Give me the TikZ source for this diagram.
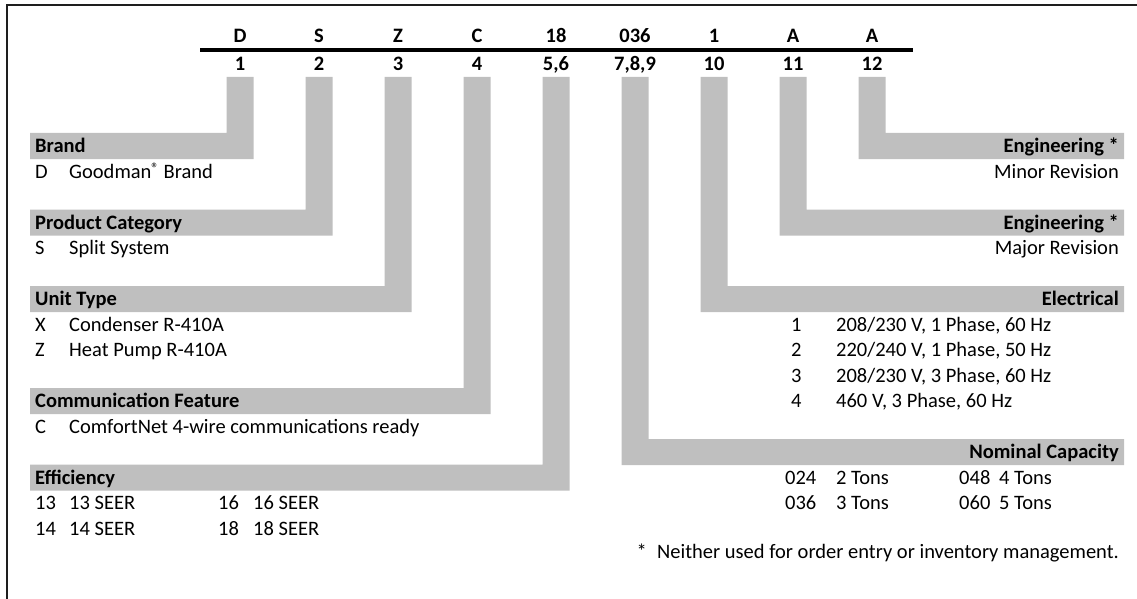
\documentclass[tikz,border=0pt]{standalone}
\usepackage{fontspec}
\setmainfont{Carlito}
\usetikzlibrary{positioning,calc}
\definecolor{CodeGray}{HTML}{BFBFBF}
\definecolor{FrameBlack}{HTML}{1E1E1E}
\newcommand{\codefont}{\fontsize{20.5}{25}\selectfont}
\newcommand{\regmark}{\raisebox{5pt}{\fontsize{15}{15}\selectfont ®}}

\begin{document}
\begin{tikzpicture}[x=1pt,y=-1pt,
    every node/.style={inner sep=0pt,font=\codefont},
    code/.style={anchor=base,font=\codefont\bfseries},
    hdl/.style={anchor=base west,font=\codefont\bfseries},
    hdr/.style={anchor=base east,font=\codefont\bfseries},
    keyl/.style={anchor=base west},
    keyr/.style={anchor=base east},
    band/.style={fill=CodeGray}
  ]
    \useasboundingbox (0,0) rectangle (1137,599);
    % frame
    \draw[FrameBlack,line width=2pt] (7,599) -- (7,5) -- (1137,5);
    % model number and digit positions
    \foreach \i/\ltr/\pos in {1/D/1,2/S/2,3/Z/3,4/C/4,5/18/{5,6},6/036/{7,8,9},7/1/10,8/A/11,9/A/12}{
      \node[code] (l\i) at ({240+79*(\i-1)},42.5) {\ltr};
      \node[code] (p\i) at ({240+79*(\i-1)},70.5) {\pos};
    }
    \coordinate (barL) at (200,50);
    \coordinate (barR) at (913,50);
    \draw[line width=4.5pt] (barL) -- (barR);

    % left hand bands
    \foreach \i/\yb in {1/146,2/222.5,3/299,4/401,5/477.5}{
      \pgfmathsetmacro{\xa}{240+79*(\i-1)-13.5}
      \pgfmathsetmacro{\xb}{\xa+27}
      \fill[band] (\xa,77) -- (\xb,77) -- (\xb,\yb+13) -- (30,\yb+13)
        -- (30,\yb-13) -- (\xa,\yb-13) -- cycle;
    }
    % right hand bands
    \foreach \i/\yb in {9/146,8/222.5,7/299,6/452}{
      \pgfmathsetmacro{\xa}{240+79*(\i-1)-13.5}
      \pgfmathsetmacro{\xb}{\xa+27}
      \fill[band] (\xa,77) -- (\xb,77) -- (\xb,\yb-13) -- (1124,\yb-13)
        -- (1124,\yb+13) -- (\xa,\yb+13) -- cycle;
    }

    % Brand
    \node[hdl] (brand) at (35,152.5) {Brand};
    \node[keyl] (brandD) at (35,178) {D};
    \node[keyl] (brandDt) at (69,178) {Goodman\regmark\ Brand};
    % Product Category
    \node[hdl] (prod) at (35,229) {Product Category};
    \node[keyl] (prodS) at (35,254.5) {S};
    \node[keyl] (prodSt) at (69,254.5) {Split System};
    % Unit Type
    \node[hdl] (unit) at (35,305.5) {Unit Type};
    \node[keyl] (unitX) at (35,331) {X};
    \node[keyl] (unitXt) at (69,331) {Condenser R-410A};
    \node[keyl] (unitZ) at (35,356.5) {Z};
    \node[keyl] (unitZt) at (69,356.5) {Heat Pump R-410A};
    % Communication Feature
    \node[hdl] (comm) at (35,407.5) {Communication Feature};
    \node[keyl] (commC) at (35,433) {C};
    \node[keyl] (commCt) at (69,433) {ComfortNet 4-wire communications ready};
    % Efficiency
    \node[hdl] (eff) at (35,484) {Efficiency};
    \node[keyl] (eff13) at (35,509.5) {13};
    \node[keyl] (eff13t) at (69,509.5) {13 SEER};
    \node[keyl] (eff14) at (35,535) {14};
    \node[keyl] (eff14t) at (69,535) {14 SEER};
    \node[keyl] (eff16) at (218,509.5) {16};
    \node[keyl] (eff16t) at (253,509.5) {16 SEER};
    \node[keyl] (eff18) at (218,535) {18};
    \node[keyl] (eff18t) at (253,535) {18 SEER};

    % Engineering (12)
    \node[hdr] (engminor) at (1119,152.5) {Engineering *};
    \node[keyr] (minor) at (1119,178) {Minor Revision};
    % Engineering (11)
    \node[hdr] (engmajor) at (1119,229) {Engineering *};
    \node[keyr] (major) at (1119,254.5) {Major Revision};
    % Electrical
    \node[hdr] (elec) at (1119,305.5) {Electrical};
    \foreach \k/\txt [count=\r] in {1/{208/230 V, 1 Phase, 60 Hz},2/{220/240 V, 1 Phase, 50 Hz},3/{208/230 V, 3 Phase, 60 Hz},4/{460 V, 3 Phase, 60 Hz}}{
      \node[keyl] (elec\r) at (791,{305.5+25.5*\r}) {\k};
      \node[keyl] (elec\r t) at (836,{305.5+25.5*\r}) {\txt};
    }
    % Nominal Capacity
    \node[hdr] (cap) at (1119,458.5) {Nominal Capacity};
    \node[keyl] (cap024) at (785,484) {024};
    \node[keyl] (cap024t) at (836,484) {2 Tons};
    \node[keyl] (cap036) at (785,509.5) {036};
    \node[keyl] (cap036t) at (836,509.5) {3 Tons};
    \node[keyl] (cap048) at (959,484) {048};
    \node[keyl] (cap048t) at (999,484) {4 Tons};
    \node[keyl] (cap060) at (959,509.5) {060};
    \node[keyl] (cap060t) at (999,509.5) {5 Tons};
    % footnote
    \node[keyr] (note) at (1119,558) {*\enspace Neither used for order entry or inventory management.};
  \end{tikzpicture}
\end{document}
